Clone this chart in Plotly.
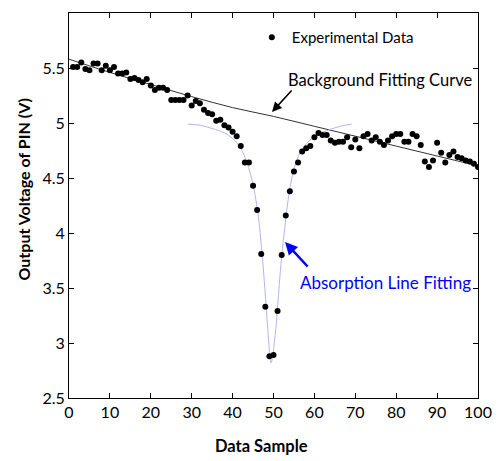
import plotly.graph_objects as go

# experimental data, samples 1..100
sample = list(range(1, 101))
voltage = [
    5.51, 5.51, 5.55, 5.49, 5.48, 5.54, 5.54, 5.48, 5.52, 5.48,
    5.51, 5.45, 5.45, 5.46, 5.40, 5.41, 5.39, 5.37, 5.40, 5.34,
    5.30, 5.32, 5.32, 5.30, 5.21, 5.21, 5.21, 5.21, 5.25, 5.16,
    5.20, 5.18, 5.12, 5.09, 5.08, 5.02, 5.03, 4.98, 4.96, 4.92,
    4.88, 4.79, 4.64, 4.64, 4.43, 4.21, 3.81, 3.33, 2.88, 2.89,
    3.29, 3.80, 4.16, 4.38, 4.56, 4.64, 4.74, 4.77, 4.79, 4.87,
    4.91, 4.89, 4.89, 4.84, 4.82, 4.83, 4.83, 4.87, 4.78, 4.85,
    4.77, 4.88, 4.90, 4.84, 4.87, 4.83, 4.80, 4.84, 4.88, 4.90,
    4.90, 4.83, 4.83, 4.90, 4.88, 4.80, 4.65, 4.60, 4.66, 4.82,
    4.73, 4.64, 4.71, 4.74, 4.69, 4.68, 4.66, 4.65, 4.63, 4.60,
]

# background fitting curve
bg_x = [0, 10, 20, 30, 40, 50, 60, 70, 80, 90, 100]
bg_y = [5.58, 5.46, 5.35, 5.24, 5.14, 5.06, 4.97, 4.88, 4.79, 4.70, 4.61]

# absorption line fitting curve
fit_x = [29, 32, 35, 38, 40, 42, 43.5, 45, 46.3, 47.1, 47.9, 48.6, 49.4,
         50.4, 51.2, 52, 52.8, 53.6, 54.8, 56.5, 59.7, 63, 66.3, 69.1]
fit_y = [4.99, 4.98, 4.95, 4.91, 4.86, 4.77, 4.64, 4.44, 4.15, 3.85, 3.49, 3.13, 2.82,
         3.07, 3.43, 3.79, 4.06, 4.31, 4.55, 4.73, 4.87, 4.93, 4.97, 4.99]

FONT = 'Lato'

fig = go.Figure()

fig.add_trace(go.Scatter(
    x=bg_x, y=bg_y, mode='lines', line=dict(color='#333333', width=1),
    line_shape='spline', showlegend=False))

fig.add_trace(go.Scatter(
    x=fit_x, y=fit_y, mode='lines', line=dict(color='#b4b4f5', width=1),
    line_shape='spline', showlegend=False))

fig.add_trace(go.Scatter(
    x=sample, y=voltage, mode='markers', name='Experimental Data',
    marker=dict(color='black', size=6)))

# page body has an 8px margin, so the figure is 8px smaller than the window
fig.update_layout(
    width=493, height=453,
    margin=dict(l=61, r=23, t=5, b=63),
    paper_bgcolor='white', plot_bgcolor='white',
    font=dict(family=FONT, size=16, color='black'),
    showlegend=True,
    legend=dict(x=0.447, y=0.979, xanchor='left', yanchor='top',
                bgcolor='rgba(0,0,0,0)', font=dict(family=FONT, size=15),
                itemwidth=30),
    xaxis=dict(range=[0, 100], dtick=10, showgrid=False, zeroline=False,
               showline=True, linecolor='black', linewidth=1, mirror='ticks',
               ticks='inside', ticklen=5, tickcolor='black', automargin=False),
    yaxis=dict(range=[2.5, 6], dtick=0.5, showgrid=False, zeroline=False,
               showline=True, linecolor='black', linewidth=1, mirror='ticks',
               ticks='inside', ticklen=5, tickcolor='black', automargin=False),
)

# positions given in window pixels (plot area: x 69..478, y 13..398)
def px(xp):
    return (xp - 69) / 409
def py(yp):
    return 1 - (yp - 13) / 385

D = dict(xref='x domain', yref='y domain')

# axis titles
fig.add_annotation(x=px(261), y=py(446), **D, text='<b>Data Sample</b>',
                   showarrow=False, xanchor='center', yanchor='middle',
                   font=dict(family=FONT, size=16.5))
fig.add_annotation(x=px(22.5), y=py(190), **D, text='<b>Output Voltage of PIN (V)</b>',
                   showarrow=False, textangle=-90, xanchor='center', yanchor='middle',
                   font=dict(family=FONT, size=16))

fig.add_annotation(x=px(286), y=py(80), **D,
                   text='Background Fitting Curve', showarrow=False,
                   xanchor='left', yanchor='middle',
                   font=dict(family=FONT, size=16.5, color='black'))
fig.add_annotation(x=px(272), y=py(112), **D,
                   ax=px(293), ay=py(89), axref='x domain', ayref='y domain',
                   text='', showarrow=True, arrowhead=2, arrowsize=1.3,
                   arrowwidth=1.5, arrowcolor='black')
fig.add_annotation(x=px(298), y=py(282), **D,
                   text='Absorption Line Fitting', showarrow=False,
                   xanchor='left', yanchor='middle',
                   font=dict(family=FONT, size=17, color='blue'))
fig.add_annotation(x=px(285), y=py(242), **D,
                   ax=px(309), ay=py(268), axref='x domain', ayref='y domain',
                   text='', showarrow=True, arrowhead=2, arrowsize=1,
                   arrowwidth=2.5, arrowcolor='blue')

fig.write_html("out.html")
